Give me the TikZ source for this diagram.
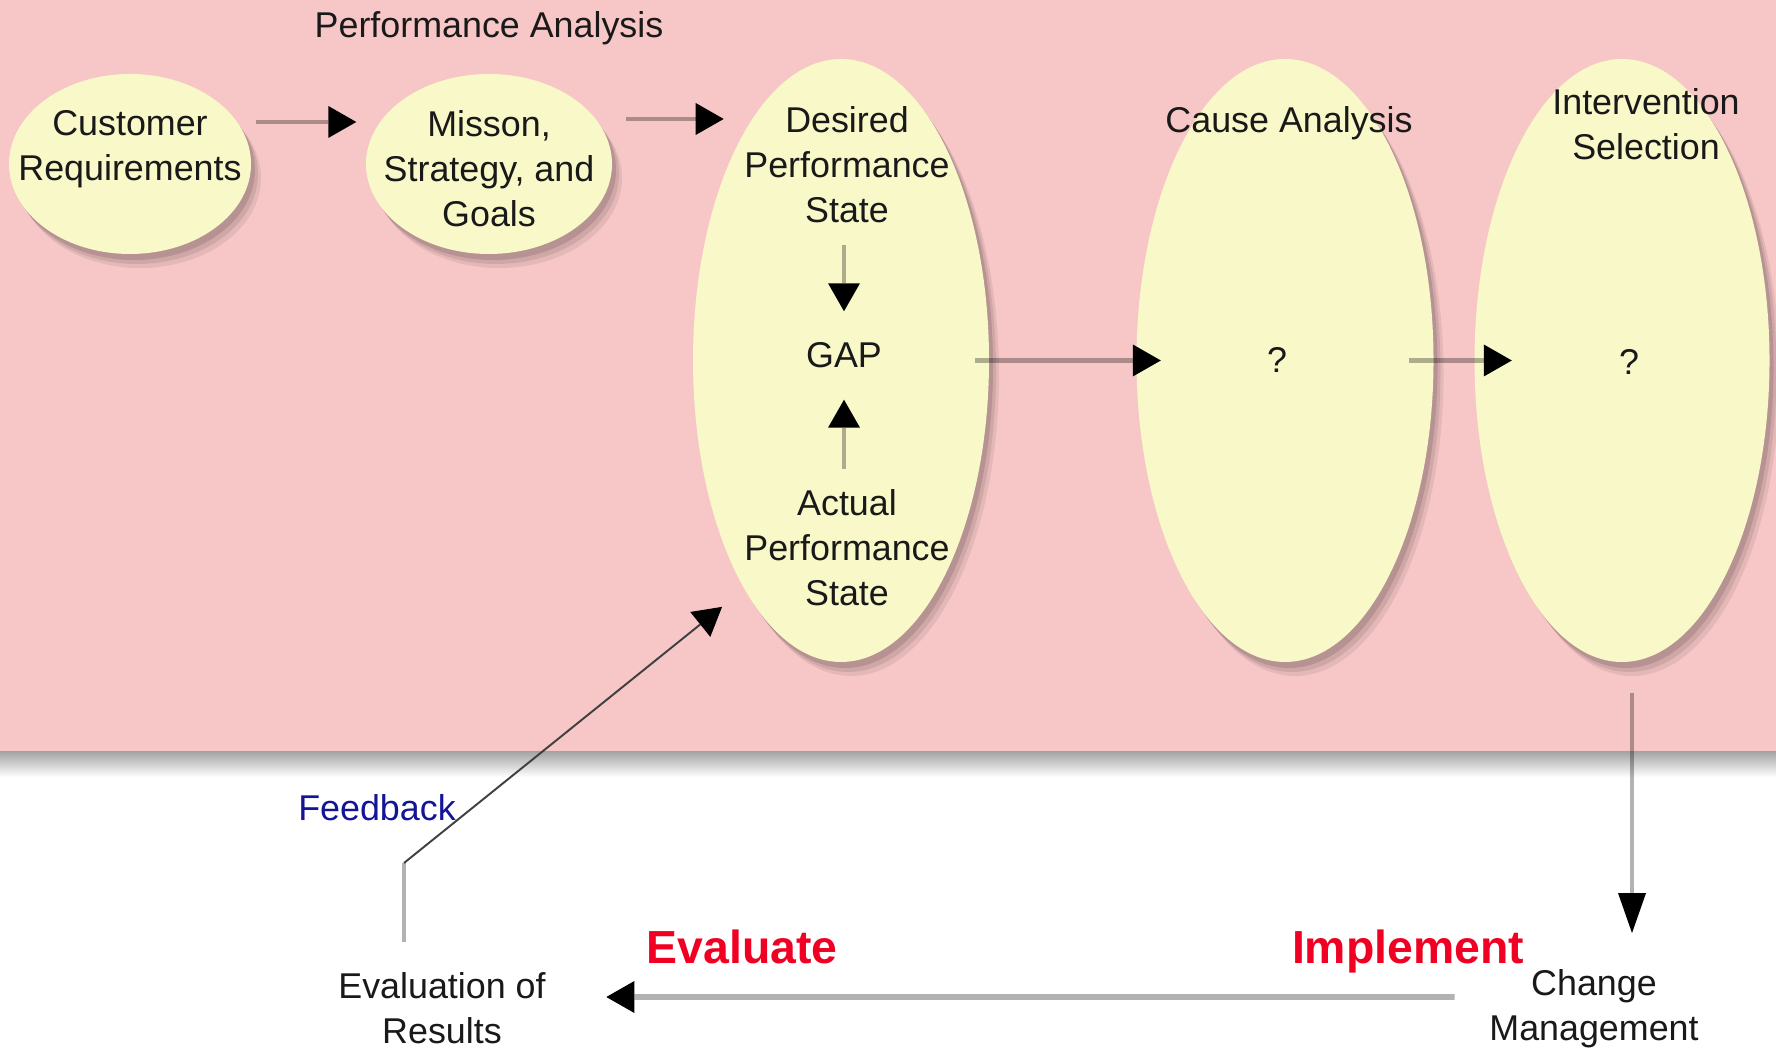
\documentclass[tikz,border=0pt]{standalone}
\usepackage{fontspec}
\setmainfont{Liberation Sans}
\usetikzlibrary{positioning, arrows.meta, shapes.geometric, shadows}

\definecolor{bandpink}{RGB}{247,198,199}
\definecolor{ovalfill}{RGB}{248,248,200}
\definecolor{bandshade}{RGB}{165,165,165}
\definecolor{stepred}{RGB}{240,0,35}
\definecolor{fbblue}{RGB}{20,20,150}
\definecolor{ink}{RGB}{25,25,25}

\begin{document}
\begin{tikzpicture}[>={Triangle[length=0.28cm, width=0.32cm, color=black, line width=0pt]},
  oval/.style={ellipse, fill=ovalfill, inner sep=0pt,
    drop shadow={shadow xshift=0.10cm, shadow yshift=-0.14cm, fill=black, opacity=0.07},
    drop shadow={shadow xshift=0.07cm, shadow yshift=-0.10cm, fill=black, opacity=0.09},
    drop shadow={shadow xshift=0.04cm, shadow yshift=-0.06cm, fill=black, opacity=0.12}},
  txt/.style={align=center, inner sep=0pt, text=ink, font=\fontsize{10.2}{12.8}\selectfont},
  big/.style={inner sep=0pt, text=stepred, font=\fontsize{13.2}{16}\selectfont\bfseries},
  conn/.style={->, draw=black, draw opacity=0.3, line width=1.4pt}]

\useasboundingbox (0,0) rectangle (17.76,10.49);
\fill[bandpink] (0,2.97) rectangle (17.76,10.49);
\shade[top color=bandshade, bottom color=white] (0,2.72) rectangle (17.76,2.97);

\node[oval, minimum width=2.42cm, minimum height=1.80cm] (cust) at (1.30,8.85) {};
\node[oval, minimum width=2.46cm, minimum height=1.80cm] (miss) at (4.89,8.85) {};
\node[oval, minimum width=2.96cm, minimum height=6.03cm] (perf) at (8.41,6.885) {};
\node[oval, minimum width=2.97cm, minimum height=6.03cm] (cause) at (12.85,6.885) {};
\node[oval, minimum width=2.95cm, minimum height=6.03cm] (interv) at (16.22,6.885) {};

\node[txt] (title) at (4.89,10.205) {Performance Analysis};
\node[txt] (custtext) at (1.30,9.00) {Customer\\Requirements};
\node[txt] (misstext) at (4.89,8.80) {Misson,\\Strategy, and\\Goals};
\node[txt, inner ysep=0.21cm] (desired) at (8.47,8.84) {Desired\\Performance\\State};
\node[txt, minimum height=0.87cm] (gap) at (8.44,6.935) {GAP};
\node[txt, inner ysep=0.20cm] (actual) at (8.47,5.01) {Actual\\Performance\\State};
\node[txt] (causetitle) at (12.89,9.255) {Cause Analysis};
\node[txt] (causeq) at (12.77,6.89) {?};
\node[txt] (intervtitle) at (16.46,9.245) {Intervention\\Selection};
\node[txt] (intervq) at (16.29,6.87) {?};
\node[txt] (change) at (15.94,0.40) {Change\\Management};
\node[txt] (evalres) at (4.42,0.41) {Evaluation of\\Results};
\node[txt, text=fbblue] (feedback) at (3.77,2.41) {Feedback};
\node[big] (evaluate) at (7.42,1.02) {Evaluate};
\node[big] (implement) at (14.08,0.97) {Implement};
\coordinate (bend) at (4.04,1.86);

\draw[conn] ([shift={(0.04,0.42)}]cust.east) -- ([shift={(-0.09,0.42)}]miss.west);
\draw[conn] ([shift={(0.13,0.45)}]miss.east) -- ([shift={(-0.20,0.46)}]desired.west);
\draw[conn] (desired.south -| gap) -- (gap);
\draw[conn] (actual.north -| gap) -- (gap);
\draw[conn] ([xshift=-0.15cm]perf.east) -- ([xshift=0.25cm]cause.west);
\draw[conn] ([xshift=-0.25cm]cause.east) -- ([xshift=0.38cm]interv.west);
\draw[conn, -{Triangle[length=0.4cm, width=0.28cm, color=black, line width=0pt]}] ([shift={(0.1,-0.3)}]interv.south) -- ([shift={(0.38,0.36)}]change.north);
\draw[conn, line width=1.6pt] ([shift={(-0.34,0.12)}]change.west) -- ([shift={(0.6,0.11)}]evalres.east);
\draw[conn, -] ([shift={(-0.38,0.30)}]evalres.north) -- (bend);
\draw[->, black!75, line width=0.55pt, shorten >=0.28cm] (bend) -- (perf.247);
\end{tikzpicture}
\end{document}
